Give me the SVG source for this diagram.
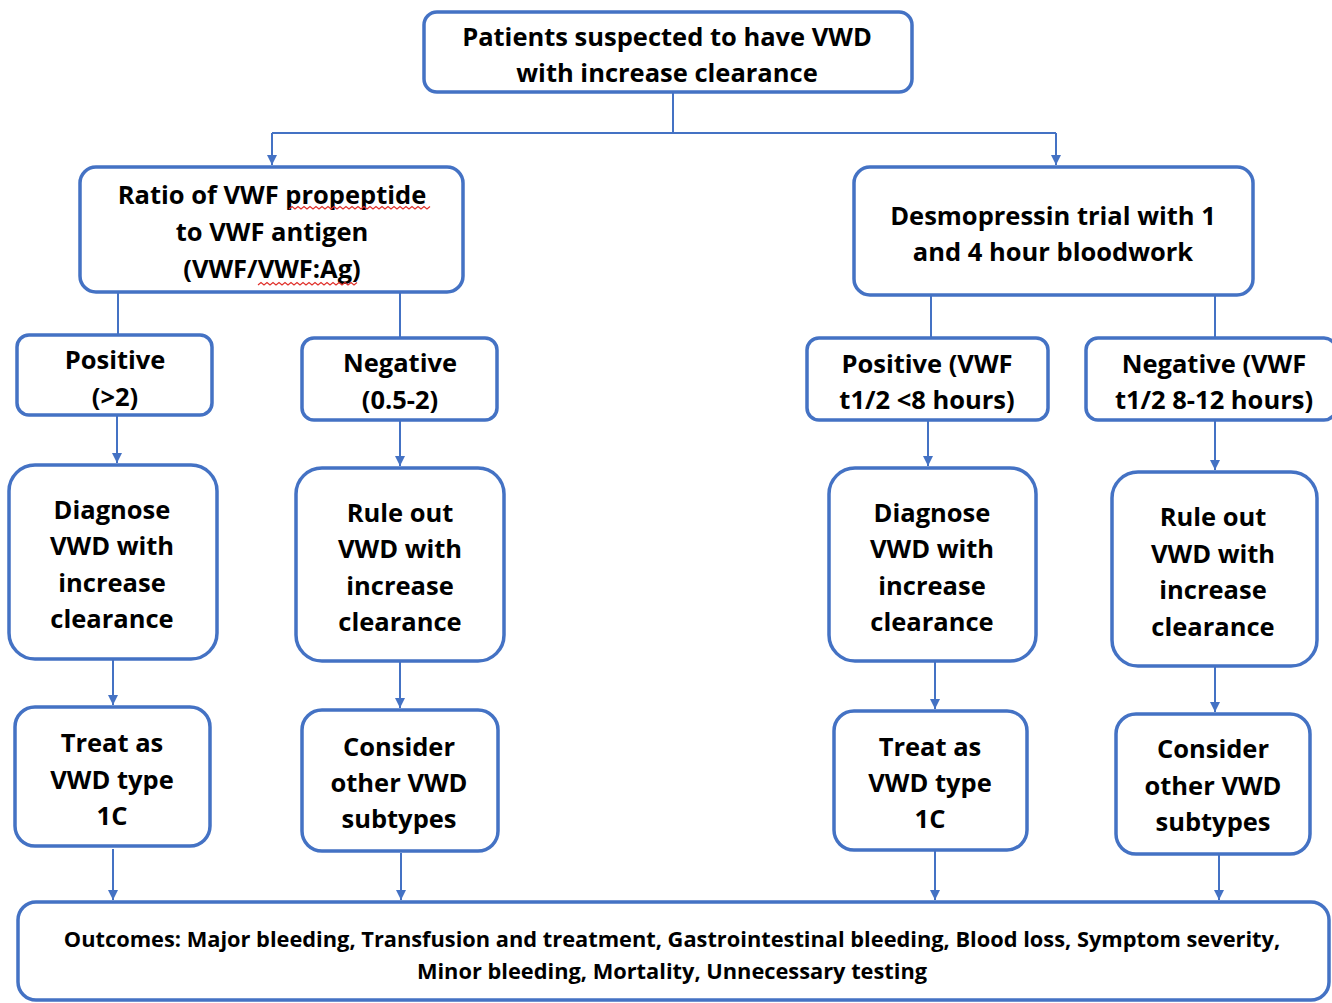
<svg xmlns="http://www.w3.org/2000/svg" width="1332" height="1003" viewBox="0 0 1332 1003">
  <defs>
    <marker id="arr" viewBox="0 0 10 10" refX="10" refY="5" markerWidth="10" markerHeight="10" markerUnits="userSpaceOnUse" orient="auto">
      <path d="M0,0 L10,5 L0,10 z" fill="#4472C4"/>
    </marker>
    <style>
      .box { fill: #ffffff; stroke: #4472C4; stroke-width: 3.5; }
      .t { font-family: "Open Sans", "Liberation Sans", sans-serif; font-weight: bold; font-size: 25.5px; fill: #000; text-anchor: middle; dominant-baseline: central; }
      .small { font-size: 21.8px; }
      .conn { fill: none; stroke: #4472C4; stroke-width: 2; }
      .arrow { marker-end: url(#arr); }
      .squig { fill: none; stroke: #e0302a; stroke-width: 1.2; }
    </style>
  </defs>

  <rect width="1332" height="1003" fill="#ffffff"/>

  <g id="connectors">
    <path class="conn" d="M673,92 V133 M272,133 H1056"/>
    <path class="conn arrow" d="M272,133 V165"/>
    <path class="conn arrow" d="M1056,133 V165"/>
    <path class="conn" d="M118,292 V335 M400,292 V338"/>
    <path class="conn" d="M931,295 V338 M1215,295 V338"/>
    <path class="conn arrow" d="M117,415 V463"/>
    <path class="conn arrow" d="M400,420 V466"/>
    <path class="conn arrow" d="M928,420 V466"/>
    <path class="conn arrow" d="M1215,420 V470"/>
    <path class="conn arrow" d="M113,659 V705"/>
    <path class="conn arrow" d="M400,661 V708"/>
    <path class="conn arrow" d="M935,661 V709"/>
    <path class="conn arrow" d="M1215,666 V712"/>
    <path class="conn arrow" d="M113,849 V900"/>
    <path class="conn arrow" d="M401,853 V900"/>
    <path class="conn arrow" d="M935,850 V900"/>
    <path class="conn arrow" d="M1219,854 V900"/>
  </g>

  <g id="start">
    <rect class="box" x="424" y="12" width="488" height="80" rx="13"/>
    <text class="t" x="667" y="36">Patients suspected to have VWD</text>
    <text class="t" x="667" y="72">with increase clearance</text>
  </g>

  <g id="ratio">
    <rect class="box" x="80" y="167" width="383" height="125" rx="16"/>
    <text class="t" x="272" y="194">Ratio of VWF propeptide</text>
    <text class="t" x="272" y="231">to VWF antigen</text>
    <text class="t" x="272" y="268">(VWF/VWF:Ag)</text>
    <path class="squig" d="M289,209 l3,-2.5 l3,2.5 l3,-2.5 l3,2.5 l3,-2.5 l3,2.5 l3,-2.5 l3,2.5 l3,-2.5 l3,2.5 l3,-2.5 l3,2.5 l3,-2.5 l3,2.5 l3,-2.5 l3,2.5 l3,-2.5 l3,2.5 l3,-2.5 l3,2.5 l3,-2.5 l3,2.5 l3,-2.5 l3,2.5 l3,-2.5 l3,2.5 l3,-2.5 l3,2.5 l3,-2.5 l3,2.5 l3,-2.5 l3,2.5 l3,-2.5 l3,2.5 l3,-2.5 l3,2.5 l3,-2.5 l3,2.5 l3,-2.5 l3,2.5 l3,-2.5 l3,2.5 l3,-2.5 l3,2.5 l3,-2.5 l3,2.5 l3,-2.5"/>
    <path class="squig" d="M258,285 l3,-2.5 l3,2.5 l3,-2.5 l3,2.5 l3,-2.5 l3,2.5 l3,-2.5 l3,2.5 l3,-2.5 l3,2.5 l3,-2.5 l3,2.5 l3,-2.5 l3,2.5 l3,-2.5 l3,2.5 l3,-2.5 l3,2.5 l3,-2.5 l3,2.5 l3,-2.5 l3,2.5 l3,-2.5 l3,2.5 l3,-2.5 l3,2.5 l3,-2.5 l3,2.5 l3,-2.5 l3,2.5 l3,-2.5 l3,2.5 l3,-2.5"/>
  </g>

  <g id="desmopressin">
    <rect class="box" x="854" y="167" width="399" height="128" rx="16"/>
    <text class="t" x="1053" y="215">Desmopressin trial with 1</text>
    <text class="t" x="1053" y="251">and 4 hour bloodwork</text>
  </g>

  <g id="ratio-positive">
    <rect class="box" x="17" y="335" width="195" height="80" rx="12"/>
    <text class="t" x="115" y="359">Positive</text>
    <text class="t" x="115" y="396">(&gt;2)</text>
  </g>

  <g id="ratio-negative">
    <rect class="box" x="302" y="338" width="195" height="82" rx="12"/>
    <text class="t" x="400" y="362">Negative</text>
    <text class="t" x="400" y="399">(0.5-2)</text>
  </g>

  <g id="desmo-positive">
    <rect class="box" x="807" y="338" width="241" height="82" rx="12"/>
    <text class="t" x="927" y="363">Positive (VWF</text>
    <text class="t" x="927" y="399">t1/2 &lt;8 hours)</text>
  </g>

  <g id="desmo-negative">
    <rect class="box" x="1086" y="338" width="250" height="82" rx="12"/>
    <text class="t" x="1214" y="363">Negative (VWF</text>
    <text class="t" x="1214" y="399">t1/2 8-12 hours)</text>
  </g>

  <g id="ratio-diagnose">
    <rect class="box" x="9" y="465" width="208" height="194" rx="26"/>
    <text class="t" x="112" y="509">Diagnose</text>
    <text class="t" x="112" y="545">VWD with</text>
    <text class="t" x="112" y="582">increase</text>
    <text class="t" x="112" y="618">clearance</text>
  </g>

  <g id="ratio-ruleout">
    <rect class="box" x="296" y="468" width="208" height="193" rx="26"/>
    <text class="t" x="400" y="512">Rule out</text>
    <text class="t" x="400" y="548">VWD with</text>
    <text class="t" x="400" y="585">increase</text>
    <text class="t" x="400" y="621">clearance</text>
  </g>

  <g id="desmo-diagnose">
    <rect class="box" x="829" y="468" width="207" height="193" rx="26"/>
    <text class="t" x="932" y="512">Diagnose</text>
    <text class="t" x="932" y="548">VWD with</text>
    <text class="t" x="932" y="585">increase</text>
    <text class="t" x="932" y="621">clearance</text>
  </g>

  <g id="desmo-ruleout">
    <rect class="box" x="1112" y="472" width="205" height="194" rx="26"/>
    <text class="t" x="1213" y="516">Rule out</text>
    <text class="t" x="1213" y="553">VWD with</text>
    <text class="t" x="1213" y="589">increase</text>
    <text class="t" x="1213" y="626">clearance</text>
  </g>

  <g id="ratio-treat">
    <rect class="box" x="15" y="707" width="195" height="139" rx="20"/>
    <text class="t" x="112" y="742">Treat as</text>
    <text class="t" x="112" y="779">VWD type</text>
    <text class="t" x="112" y="815">1C</text>
  </g>

  <g id="ratio-consider">
    <rect class="box" x="302" y="710" width="196" height="141" rx="20"/>
    <text class="t" x="399" y="746">Consider</text>
    <text class="t" x="399" y="782">other VWD</text>
    <text class="t" x="399" y="818">subtypes</text>
  </g>

  <g id="desmo-treat">
    <rect class="box" x="834" y="711" width="193" height="139" rx="20"/>
    <text class="t" x="930" y="746">Treat as</text>
    <text class="t" x="930" y="782">VWD type</text>
    <text class="t" x="930" y="818">1C</text>
  </g>

  <g id="desmo-consider">
    <rect class="box" x="1116" y="714" width="194" height="140" rx="20"/>
    <text class="t" x="1213" y="748">Consider</text>
    <text class="t" x="1213" y="785">other VWD</text>
    <text class="t" x="1213" y="821">subtypes</text>
  </g>

  <g id="outcomes">
    <rect class="box" x="18" y="902" width="1311" height="98" rx="18"/>
    <text class="t small" x="672" y="938">Outcomes: Major bleeding, Transfusion and treatment, Gastrointestinal bleeding, Blood loss, Symptom severity,</text>
    <text class="t small" x="672" y="970">Minor bleeding, Mortality, Unnecessary testing</text>
  </g>
</svg>
